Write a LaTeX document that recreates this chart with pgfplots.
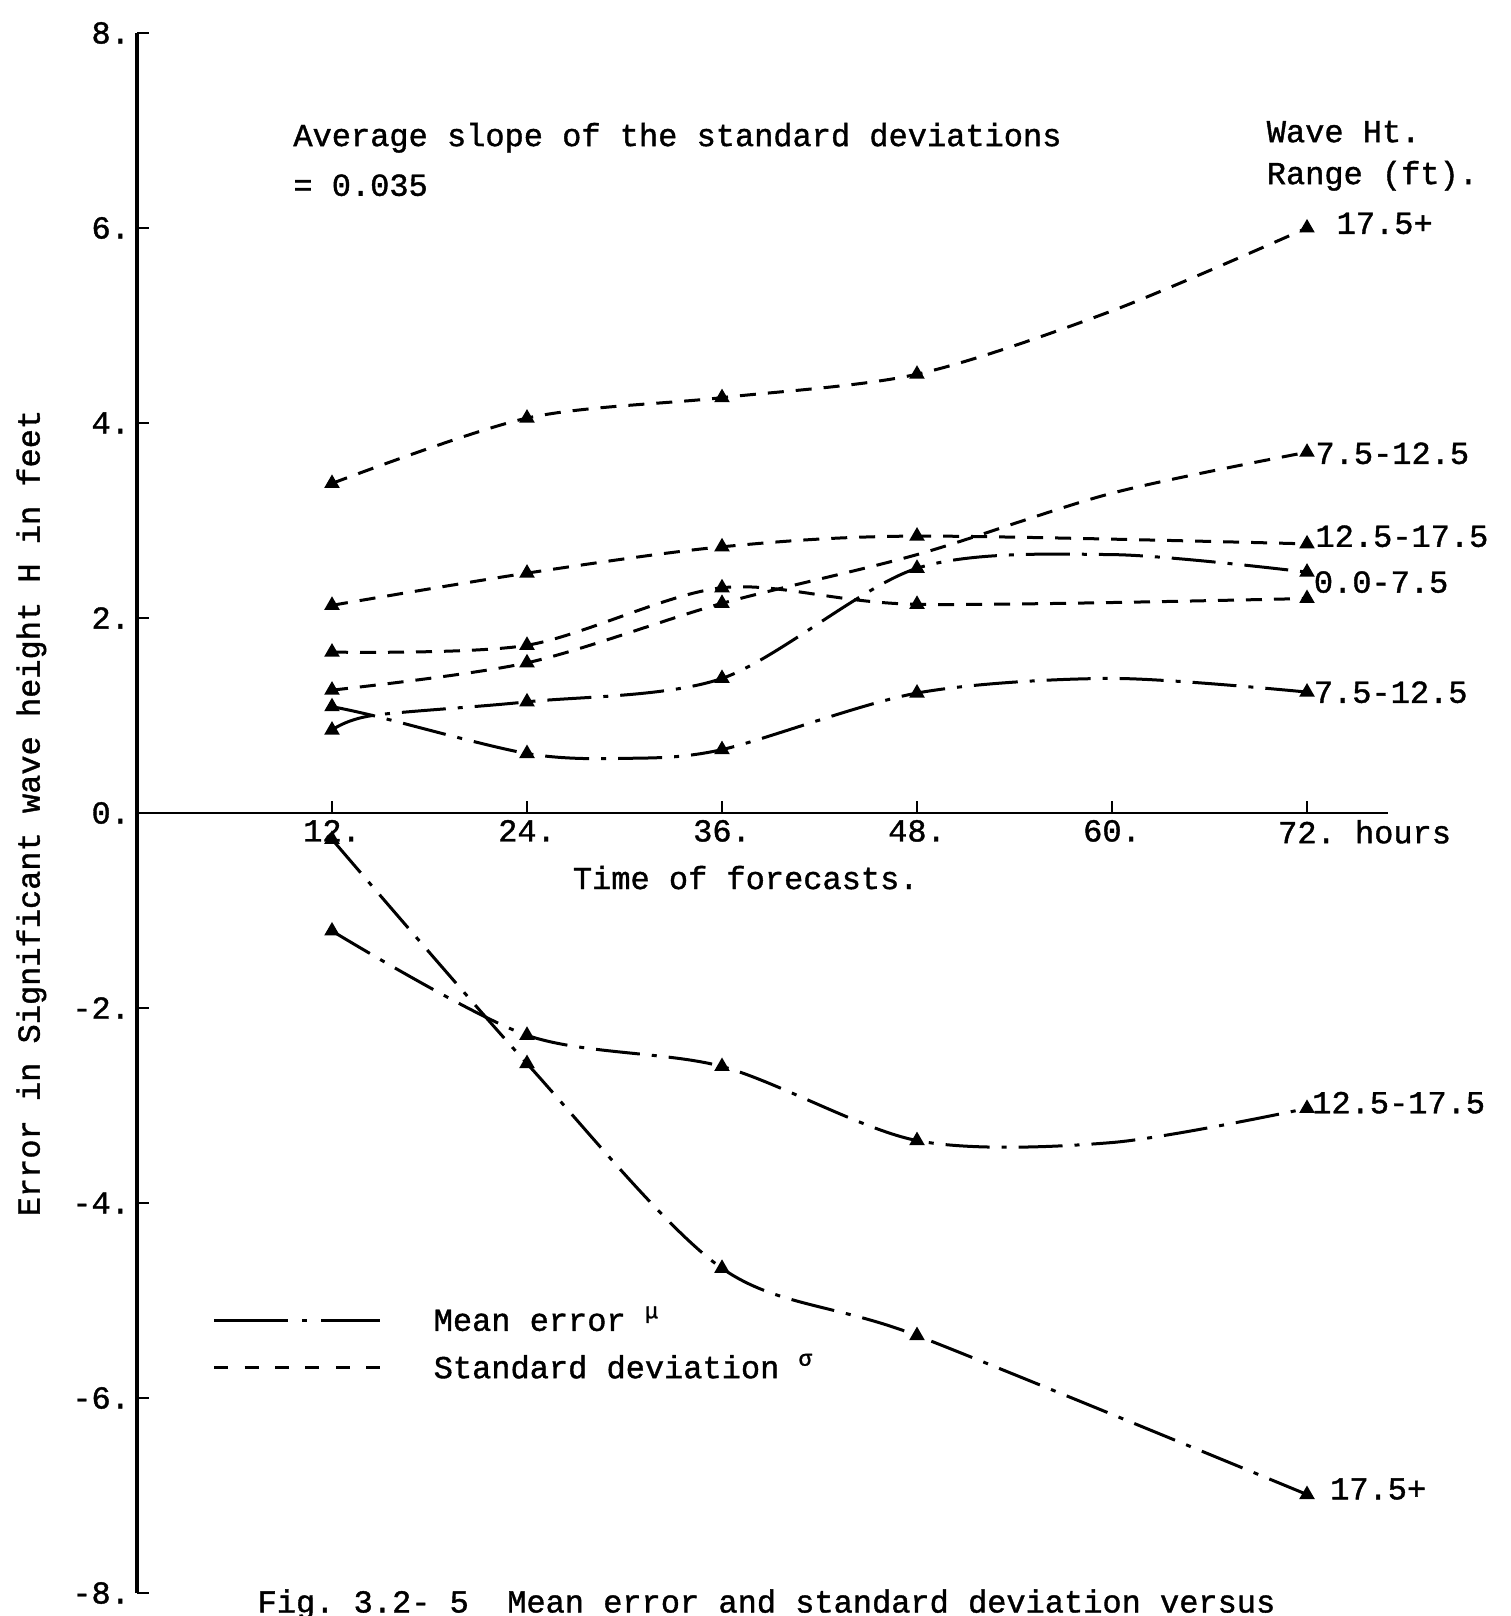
\documentclass[border=0pt]{standalone}
\usepackage{fontspec}
\setmainfont{Liberation Mono}[FakeBold=1.2]
\usepackage{pgfplots}
\pgfplotsset{compat=1.18}

\newcommand{\tw}{\fontsize{16}{19}\selectfont\frenchspacing}

\pgfplotsset{
  sdline/.style={black, line width=1.5pt, dash pattern=on 8pt off 6pt,
    smooth, tension=0.5, mark=triangle*, mark size=3pt, mark options={solid}},
  meanline/.style={black, line width=1.5pt, dash pattern=on 22pt off 6pt on 2.5pt off 6pt,
    smooth, tension=0.5, mark=triangle*, mark size=3pt, mark options={solid}},
}
\tikzset{lab/.style={anchor=base west, inner sep=0pt, font=\tw}}

\begin{document}
\begin{tikzpicture}
\begin{axis}[
  at={(0pt,0pt)}, anchor=south west,
  x=8.125pt, y=48.75pt,
  xmin=0, xmax=77, ymin=-8, ymax=8,
  axis x line=middle,
  axis y line=left,
  axis line style={-},
  every inner x axis line/.append style={-, line width=1.1pt},
  every outer y axis line/.append style={-, line width=2pt},
  xtick={12,24,36,48,60,72},
  xticklabels={12.,24.,36.,48.,60.,{72.\rlap{ hours}}},
  ytick={-8,-6,-4,-2,0,2,4,6,8},
  yticklabels={-8.,-6.,-4.,-2.,0.,2.,4.,6.,8.},
  xtick align=inside,
  ytick align=inside,
  major tick length=6pt,
  tick style={black, line width=1.3pt},
  hide obscured x ticks=false,
  hide obscured y ticks=false,
  ticklabel style={font=\tw},
  clip=false,
  legend cell align=left,
  legend style={at={(axis cs:4.66,-5.02)}, anchor=north west, draw=none, fill=none,
    inner sep=0pt, outer sep=0pt, column sep=24pt, row sep=6pt, font=\tw},
]

% legend samples
\addlegendimage{legend image code/.code={%
  \draw[line width=1.5pt, dash pattern=on 37pt off 7pt on 2.5pt off 7pt on 40pt]
    (0pt,0pt) -- (83pt,0pt);}}
\addlegendentry{Mean error \textsuperscript{μ}}
\addlegendimage{legend image code/.code={%
  \draw[line width=1.5pt, dash pattern=on 7pt off 8.2pt]
    (0pt,0pt) -- (83pt,0pt);}}
\addlegendentry{Standard deviation \textsuperscript{σ}}

% standard deviations (dashed)
\addplot[sdline, mark indices={1,2,3,4,6}] coordinates
  {(12,3.38) (24,4.05) (36,4.26) (48,4.50) (60,5.15) (72,6.00)};      % 17.5+
\addplot[sdline] coordinates
  {(12,2.13) (24,2.46) (36,2.73) (48,2.84) (72,2.76)};                % 12.5-17.5
\addplot[sdline, mark indices={1,2,3,6}] coordinates
  {(12,1.26) (24,1.54) (36,2.15) (48,2.65) (60,3.28) (72,3.70)};      % 7.5-12.5
\addplot[sdline] coordinates
  {(12,1.65) (24,1.72) (36,2.31) (48,2.14) (72,2.20)};                % 0.0-7.5

% mean errors (long dash - dot)
\addplot[meanline, mark indices={1,3,4,5,7}] coordinates
  {(12,0.85) (14.5,1.00) (24,1.14) (36,1.38) (48,2.51) (60,2.65) (72,2.47)};        % 0.0-7.5
\addplot[meanline, mark indices={1,3,5,6,8}] coordinates
  {(12,1.09) (14.5,1.00) (24,0.61) (30,0.56) (36,0.65) (48,1.23) (60,1.38) (72,1.24)}; % 7.5-12.5
\addplot[meanline, mark indices={1,2,3,4,6}] coordinates
  {(12,-1.21) (24,-2.28) (36,-2.60) (48,-3.36) (60,-3.38) (72,-3.03)}; % 12.5-17.5
\addplot[meanline] coordinates
  {(12,-0.27) (24,-2.57) (36,-4.67) (48,-5.36) (72,-6.99)};            % 17.5+

% annotations
\node[lab] at (axis cs:9.6,6.84) {Average slope of the standard deviations};
\node[lab] at (axis cs:9.6,6.33) {= 0.035};
\node[lab] at (axis cs:69.5,6.88) {Wave Ht.};
\node[lab] at (axis cs:69.5,6.45) {Range (ft).};

\node[lab] at (axis cs:73.8,5.94) {17.5+};
\node[lab] at (axis cs:72.5,3.58) {7.5-12.5};
\node[lab] at (axis cs:72.5,2.73) {12.5-17.5};
\node[lab] at (axis cs:72.4,2.26) {0.0-7.5};
\node[lab] at (axis cs:72.4,1.13) {7.5-12.5};
\node[lab] at (axis cs:72.3,-3.08) {12.5-17.5};
\node[lab] at (axis cs:73.4,-7.04) {17.5+};

\node[lab] at (axis cs:26.8,-0.78) {Time of forecasts.};
\node[font=\tw, rotate=90, inner sep=0pt] at (axis cs:-6.5,0)
  {Error in Significant wave height H in feet};

\node[lab] at (axis cs:7.4,-8.2)
  {Fig. 3.2-~5\ \ Mean error and standard deviation versus};
\end{axis}
\pgfresetboundingbox
\path[use as bounding box] (-68.5pt,-11.5pt) rectangle (686.5pt,796.5pt);
\end{tikzpicture}
\end{document}
